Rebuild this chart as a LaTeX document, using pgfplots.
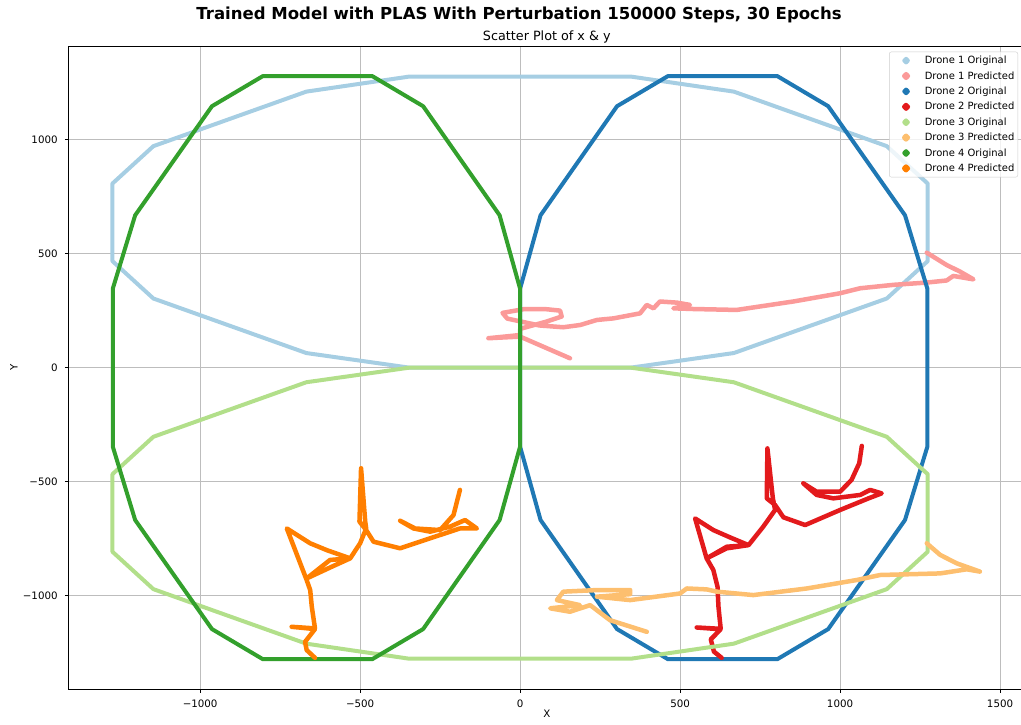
\documentclass[border=0pt]{standalone}
\usepackage{fontspec}
\setmainfont{DejaVu Sans}
\usepackage{pgfplots}
\pgfplotsset{compat=1.18}
\definecolor{d1o}{HTML}{A6CEE3}
\definecolor{d1p}{HTML}{FB9A99}
\definecolor{d2o}{HTML}{1F78B4}
\definecolor{d2p}{HTML}{E31A1C}
\definecolor{d3o}{HTML}{B2DF8A}
\definecolor{d3p}{HTML}{FDBF6F}
\definecolor{d4o}{HTML}{33A02C}
\definecolor{d4p}{HTML}{FF7F00}
\definecolor{gridgray}{HTML}{BDBDBD}
\definecolor{legedge}{HTML}{CCCCCC}
\begin{document}
\begin{tikzpicture}
\begin{axis}[
  scale only axis,
  width=957bp, height=643.3bp,
  at={(0,0)}, anchor=south west,
  xmin=-1412, xmax=1579, ymin=-1410, ymax=1410,
  xtick={-1000,-500,0,500,1000,1500},
  xticklabels={−1000,−500,0,500,1000,1500},
  ytick={-1000,-500,0,500,1000},
  yticklabels={−1000,−500,0,500,1000},
  xtick pos=bottom, ytick pos=left,
  tick align=outside,
  major tick length=3.5bp,
  every tick/.style={black, line width=0.8bp},
  axis line style={line width=0.8bp, black},
  grid=major,
  grid style={color=gridgray, line width=0.8bp},
  ticklabel style={font=\fontsize{10.3}{12}\selectfont},
  xticklabel style={anchor=north, inner sep=0pt, yshift=-7bp},
  yticklabel style={anchor=east, inner sep=0pt, xshift=-7bp},
  every axis plot/.append style={line join=round, line cap=round, mark=none},
  legend cell align=left,
  legend image code/.code={\path (0bp,0bp) (25bp,0bp); \fill[#1] (12.5bp,0bp) circle (1.8bp);},
  legend style={at={(0.9924,0.9911)}, anchor=north east,
    draw=legedge, rounded corners=2bp, fill=white, fill opacity=0.8, text opacity=1,
    inner sep=2bp, row sep=2bp, column sep=2.5bp,
    font=\fontsize{10}{12}\selectfont,
    nodes={inner sep=1.5bp, text height=8.2bp, text depth=2.2bp}},
]
% Drone 1 Original
\addplot[d1o, line width=4bp] coordinates {
(-1274,807) (-1146,971) (-668,1210) (-346,1276) (346,1276) (668,1210) (1146,971) (1274,807)
(1274,467) (1146,303) (668,64) (346,0) (-346,0) (-668,64) (-1146,303) (-1274,467) (-1274,807)};
\addlegendentry{Drone 1 Original}
% Drone 1 Predicted
\addplot[d1p, line width=4.5bp] coordinates {
(1271,504) (1333,450) (1375,421) (1417,387) (1354,402) (1333,382) (1271,373) (1167,363)
(1063,348) (1000,326) (854,290) (677,253) (542,257) (479,260) (531,275) (490,285) (437,290)
(417,260) (396,275) (375,238) (292,216) (240,209) (188,187) (135,177) (60,185) (-40,215)
(-55,240) (10,256) (83,256) (125,250) (130,224) (83,202) (0,170) (0,143) (-99,129) (0,136) (156,41)};
\addlegendentry{Drone 1 Predicted}
% Drone 2 Original
\addplot[d2o, line width=4bp] coordinates {
(0,346) (64,668) (303,1146) (462,1278) (804,1278) (963,1146) (1203,668) (1273,346)
(1273,-346) (1203,-668) (963,-1146) (804,-1278) (462,-1278) (303,-1146) (64,-668) (0,-346) (0,346)};
\addlegendentry{Drone 2 Original}
% Drone 2 Predicted
\addplot[d2p, line width=4.5bp] coordinates {
(630,-1272) (606,-1245) (596,-1191) (627,-1147) (552,-1139) (627,-1145) (620,-1048) (617,-960)
(604,-887) (583,-836) (547,-661) (604,-712) (656,-744) (714,-778) (646,-792) (583,-836)
(646,-785) (714,-778) (760,-697) (797,-624) (790,-573) (773,-354) (771,-573) (797,-602)
(823,-656) (891,-690) (1000,-624) (1089,-573) (1130,-551) (1094,-536) (1063,-558) (979,-573)
(927,-558) (885,-507) (927,-544) (1000,-544) (1036,-492) (1060,-419) (1068,-343)};
\addlegendentry{Drone 2 Predicted}
% Drone 3 Original
\addplot[d3o, line width=4bp] coordinates {
(-1274,-807) (-1146,-971) (-668,-1210) (-346,-1276) (346,-1276) (668,-1210) (1146,-971) (1274,-807)
(1274,-467) (1146,-303) (668,-64) (346,0) (-346,0) (-668,-64) (-1146,-303) (-1274,-467) (-1274,-807)};
\addlegendentry{Drone 3 Original}
% Drone 3 Predicted
\addplot[d3p, line width=4.5bp] coordinates {
(1271,-770) (1313,-821) (1365,-858) (1437,-894) (1396,-884) (1313,-902) (1125,-909) (1052,-931)
(896,-968) (729,-997) (615,-982) (583,-972) (521,-968) (500,-990) (344,-1019) (240,-1004)
(344,-993) (344,-975) (240,-975) (135,-982) (115,-1019) (187,-1041) (94,-1055) (156,-1070)
(219,-1041) (281,-1107) (396,-1158)};
\addlegendentry{Drone 3 Predicted}
% Drone 4 Original
\addplot[d4o, line width=4bp] coordinates {
(0,346) (-64,668) (-303,1146) (-462,1278) (-804,1278) (-963,1146) (-1203,668) (-1273,346)
(-1273,-346) (-1203,-668) (-963,-1146) (-804,-1278) (-462,-1278) (-303,-1146) (-64,-668) (0,-346) (0,346)};
\addlegendentry{Drone 4 Original}
% Drone 4 Predicted
\addplot[d4p, line width=4.5bp] coordinates {
(-641,-1272) (-667,-1238) (-672,-1202) (-641,-1146) (-714,-1136) (-641,-1143) (-651,-1048)
(-656,-975) (-667,-931) (-729,-705) (-656,-770) (-604,-800) (-531,-836) (-594,-843) (-667,-924)
(-589,-873) (-531,-836) (-500,-770) (-481,-705) (-484,-675) (-497,-441) (-502,-675) (-481,-712)
(-458,-763) (-375,-792) (-281,-748) (-188,-705) (-135,-705) (-172,-668) (-219,-697) (-281,-719)
(-333,-705) (-375,-671) (-328,-705) (-250,-712) (-208,-646) (-188,-536)};
\addlegendentry{Drone 4 Predicted}
\end{axis}
\node[font=\fontsize{16.6}{19}\selectfont\bfseries] at (450.7bp,674.3bp) {Trained Model with PLAS With Perturbation 150000 Steps, 30 Epochs};
\node[font=\fontsize{12.8}{15}\selectfont] at (478.5bp,652.3bp) {Scatter Plot of x \& y};
\node[font=\fontsize{10.3}{12}\selectfont] at (478.5bp,-24.7bp) {X};
\node[font=\fontsize{10.3}{12}\selectfont, rotate=90] at (-54.3bp,321.7bp) {Y};
\pgfresetboundingbox
\path[use as bounding box] (-68.3bp,-35.7bp) rectangle (952.7bp,689.3bp);
\end{tikzpicture}
\end{document}
